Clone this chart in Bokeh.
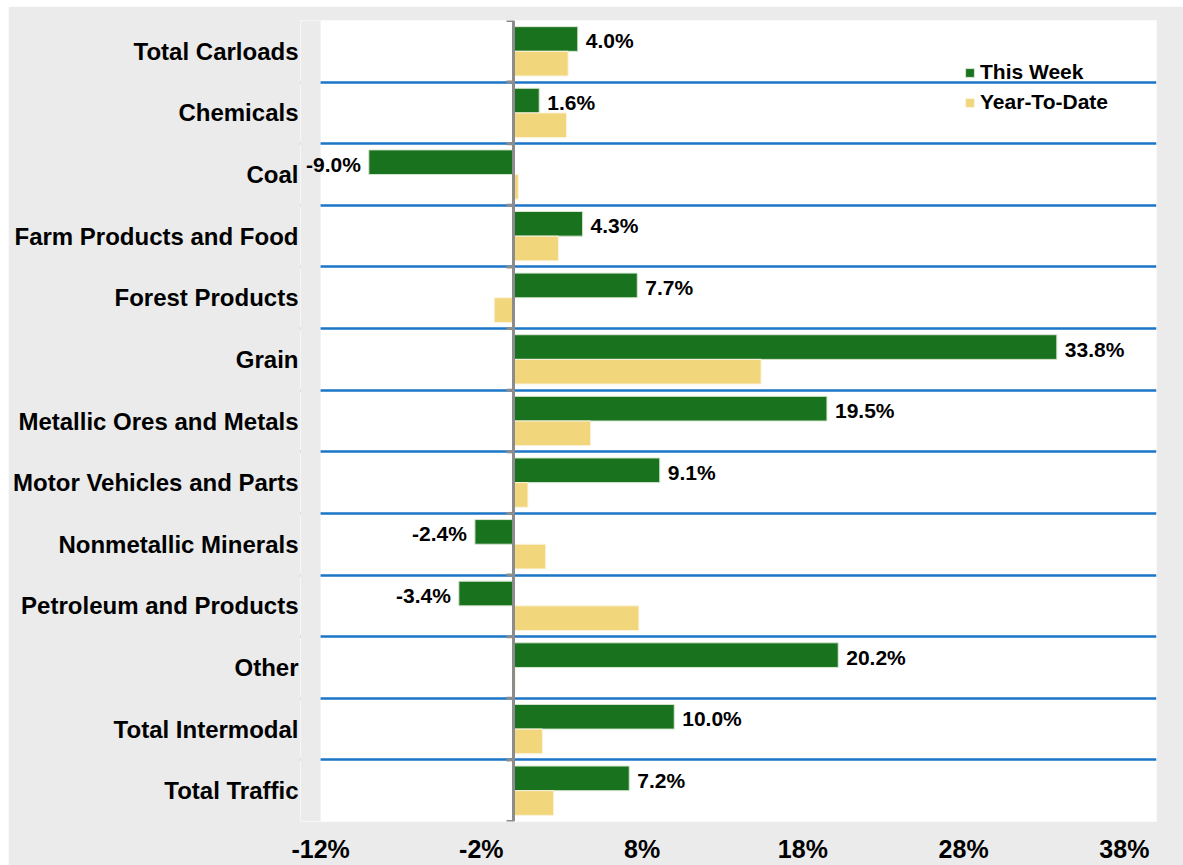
import numpy as np
from bokeh.plotting import figure
from bokeh.models import (ColumnDataSource, Range1d, FixedTicker, PrintfTickFormatter,
                          Legend, LegendItem, Span, LabelSet, Spacer, BoxAnnotation)
from bokeh.core.properties import value
from bokeh.layouts import column, row
from bokeh.embed import file_html
from bokeh.resources import INLINE

categories = ["Total Carloads", "Chemicals", "Coal", "Farm Products and Food",
              "Forest Products", "Grain", "Metallic Ores and Metals",
              "Motor Vehicles and Parts", "Nonmetallic Minerals",
              "Petroleum and Products", "Other", "Total Intermodal", "Total Traffic"]
this_week = [4.0, 1.6, -9.0, 4.3, 7.7, 33.8, 19.5, 9.1, -2.4, -3.4, 20.2, 10.0, 7.2]
year_to_date = [3.4, 3.3, 0.3, 2.8, -1.2, 15.4, 4.8, 0.9, 2.0, 7.8, 0.1, 1.8, 2.5]
x_ticks = [-12, -2, 8, 18, 28, 38]

GREEN = "#18721e"
YELLOW = "#f1d67c"
GRID = "#1c76c7"
BG = "#ebebeb"
FONT = "Liberation Sans"

n = len(categories)
ypos = [n - 1 - i for i in range(n)]

src = ColumnDataSource(dict(
    cat=categories,
    y=ypos,
    y_week=[y + 0.2 for y in ypos],
    y_ytd=[y - 0.2 for y in ypos],
    week=this_week,
    ytd=year_to_date,
))

pos_idx = [i for i, v in enumerate(this_week) if v >= 0]
neg_idx = [i for i, v in enumerate(this_week) if v < 0]
lab_pos = ColumnDataSource(dict(
    x=[this_week[i] for i in pos_idx],
    y=[ypos[i] + 0.2 for i in pos_idx],
    t=["%.1f%%" % this_week[i] for i in pos_idx],
))
lab_neg = ColumnDataSource(dict(
    x=[this_week[i] for i in neg_idx],
    y=[ypos[i] + 0.2 for i in neg_idx],
    t=["%.1f%%" % this_week[i] for i in neg_idx],
))

# frame extends slightly left of -12 so that outside labels are not clipped;
# that strip is painted with the background colour
p = figure(width=1175, height=859, output_backend="svg", toolbar_location=None,
           x_range=Range1d(-13.25, 40), y_range=Range1d(-0.5, n - 0.5),
           min_border_left=292, min_border_right=27, min_border_top=14,
           min_border_bottom=42)
p.background_fill_color = "white"
p.border_fill_color = BG
p.outline_line_color = None

# grid lines at category boundaries
p.xgrid.visible = False
p.ygrid.ticker = FixedTicker(ticks=[y - 0.5 for y in range(n + 1)])
p.ygrid.grid_line_color = GRID
p.ygrid.grid_line_width = 2.4

p.add_layout(BoxAnnotation(right=x_ticks[0], fill_color=BG, fill_alpha=1,
                           line_color=None, level="underlay"))

r_week = p.hbar(y="y_week", right="week", left=0, height=0.4, source=src,
                fill_color=GREEN, line_color="#d8e6d0", line_width=1)
r_ytd = p.hbar(y="y_ytd", right="ytd", left=0, height=0.4, source=src,
               fill_color=YELLOW, line_color="#fbf3dc", line_width=1)

# zero line and small category tick marks
p.add_layout(Span(location=0, dimension="height", line_color="#8c8c8c", line_width=3))
p.ray(x=0, y=[y - 0.5 for y in range(n + 1)], length=7, angle=np.pi,
      length_units="screen", line_color="#8c8c8c", line_width=3)

p.add_layout(LabelSet(x="x", y="y", text="t", source=lab_pos, x_offset=8, y_offset=-2,
                      text_align="left", text_baseline="middle", text_font=value(FONT),
                      text_font_size=value("21px"), text_font_style=value("bold"),
                      text_color="black"))
p.add_layout(LabelSet(x="x", y="y", text="t", source=lab_neg, x_offset=-8, y_offset=-2,
                      text_align="right", text_baseline="middle", text_font=value(FONT),
                      text_font_size=value("21px"), text_font_style=value("bold"),
                      text_color="black"))

# axes
p.xaxis.ticker = FixedTicker(ticks=x_ticks)
p.xaxis.formatter = PrintfTickFormatter(format="%d%%")
p.xaxis.axis_line_color = None
p.xaxis.major_tick_line_color = None
p.xaxis.minor_tick_line_color = None
p.xaxis.major_tick_out = 0
p.xaxis.major_tick_in = 0
p.xaxis.major_label_standoff = 13
p.xaxis.major_label_text_font = FONT
p.xaxis.major_label_text_font_style = "bold"
p.xaxis.major_label_text_font_size = "25px"
p.xaxis.major_label_text_color = "black"

p.yaxis.ticker = FixedTicker(ticks=ypos)
p.yaxis.major_label_overrides = {y: c for y, c in zip(ypos, categories)}
p.yaxis.axis_line_color = None
p.yaxis.major_tick_line_color = None
p.yaxis.minor_tick_line_color = None
p.yaxis.major_tick_out = 0
p.yaxis.major_tick_in = 0
p.yaxis.major_label_standoff = 2
p.yaxis.major_label_text_font = FONT
p.yaxis.major_label_text_font_style = "bold"
p.yaxis.major_label_text_font_size = "24px"
p.yaxis.major_label_text_color = "black"

legend = Legend(items=[LegendItem(label="This Week", renderers=[r_week]),
                       LegendItem(label="Year-To-Date", renderers=[r_ytd])],
                location=(664, 707), orientation="vertical",
                background_fill_alpha=0, border_line_color=None,
                padding=0, margin=0, spacing=6,
                glyph_width=11, glyph_height=11, label_height=24,
                label_standoff=5, label_text_font=FONT,
                label_text_font_style="bold", label_text_font_size="21px",
                label_text_color="black")
p.add_layout(legend)

layout = column(Spacer(height=6), row(Spacer(width=8), p))
open("out.html", "w").write(file_html(layout, INLINE))
